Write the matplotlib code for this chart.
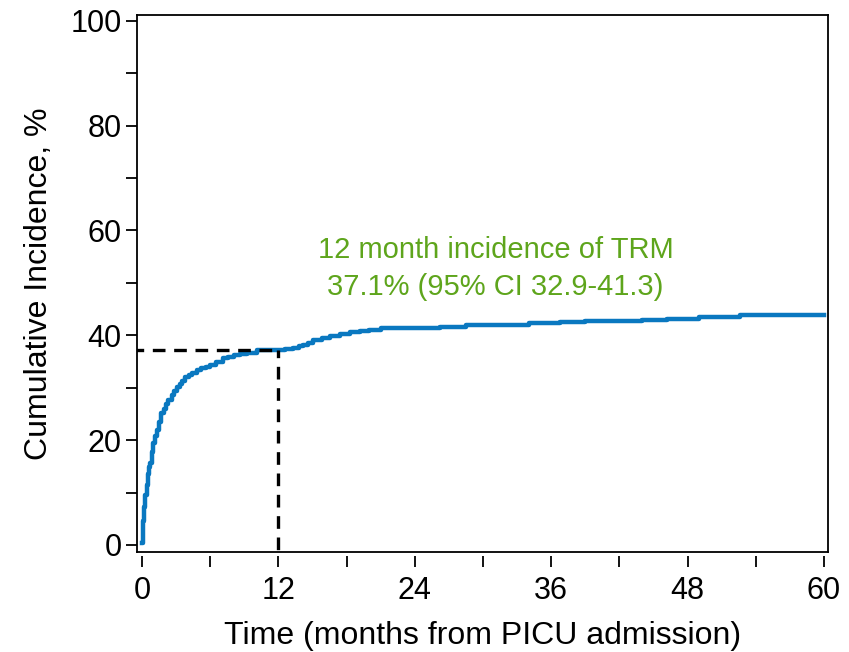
import numpy as np
import matplotlib
matplotlib.use('Agg')
import matplotlib.pyplot as plt
from matplotlib.ticker import MultipleLocator

# cumulative incidence of TRM (months, %)
times = [0, 0.05, 0.1, 0.15, 0.2, 0.3, 0.4, 0.5, 0.6, 0.7, 0.85, 1.0, 1.15, 1.3,
         1.5, 1.7, 1.9, 2.1, 2.3, 2.6, 2.8, 3.05, 3.3, 3.5, 3.8, 4.1, 4.4, 4.8,
         5.2, 5.6, 6.0, 6.5, 7.15, 7.6, 8.1, 8.6, 9.2, 10.1, 11.0, 11.85, 12.6,
         13.3, 13.8, 14.2, 14.6, 15.0, 15.8, 16.5, 17.4, 18.3, 19.2, 20.0, 21.0,
         24.0, 26.2, 28.5, 31.5, 34.0, 36.8, 39.0, 41.4, 44.0, 46.2, 49.0, 52.6, 60.0]
cum_inc = [0.3, 2.5, 4.5, 6.0, 7.3, 9.5, 11.5, 13.5, 14.8, 15.6, 17.8, 19.5, 20.8,
           22.0, 23.5, 25.2, 26.0, 26.8, 27.7, 28.6, 29.3, 30.2, 30.7, 31.2, 32.0,
           32.4, 32.8, 33.4, 33.7, 34.0, 34.4, 34.9, 35.6, 35.9, 36.2, 36.4, 36.7,
           37.1, 37.1, 37.2, 37.3, 37.6, 37.9, 38.2, 38.6, 39.1, 39.4, 39.8, 40.2,
           40.7, 40.8, 41.0, 41.3, 41.4, 41.6, 41.9, 42.0, 42.3, 42.6, 42.7, 42.8,
           43.0, 43.1, 43.4, 43.9, 43.9]

landmark_t = 12
landmark_ci = 37.1
annot = "12 month incidence of TRM\n37.1% (95% CI 32.9-41.3)"

green = '#5ea51c'
blue = '#0a78c0'

plt.rcParams['font.family'] = ['Liberation Sans', 'DejaVu Sans']

fig = plt.figure(figsize=(8.49, 6.52), dpi=100)
ax = fig.add_axes([0.1614, 0.1534, 0.8139, 0.8236])

ax.step(times, cum_inc, where='post', color=blue, lw=3.2)

# dashed guide lines at 12 months
ax.plot([-1, landmark_t], [landmark_ci, landmark_ci], color='black', lw=2.4,
        ls=(0, (3.8, 2.6)))
ax.plot([landmark_t, landmark_t], [-5, landmark_ci], color='black', lw=2.4,
        ls=(0, (3.8, 2.6)))

ax.text(31.1, 52.7, annot, color=green, fontsize=21, ha='center', va='center',
        linespacing=1.4)

ax.set_xlim(-0.44, 60.35)
ax.set_ylim(-1.34, 101.1)

ax.xaxis.set_major_locator(MultipleLocator(12))
ax.xaxis.set_minor_locator(MultipleLocator(6))
ax.yaxis.set_major_locator(MultipleLocator(20))
ax.yaxis.set_minor_locator(MultipleLocator(10))
ax.tick_params(axis='both', which='both', direction='out', length=8, width=1.3,
               labelsize=22, color='black')
ax.tick_params(axis='x', which='major', pad=6)
ax.tick_params(axis='y', which='major', pad=3)

# x axis sits just below the plot box, like the original
ax.spines['bottom'].set_position(('outward', 3))
ax.spines['bottom'].set_color('none')
ax.plot([0, 1], [0, 0], transform=ax.transAxes, color='black', lw=1.3, clip_on=False)
for s in ['left', 'top', 'right']:
    ax.spines[s].set_linewidth(1.3)

ax.set_xlabel('Time (months from PICU admission)', fontsize=23, labelpad=11)
ax.set_ylabel('Cumulative Incidence, %', fontsize=23, labelpad=12)

fig.savefig('out.png', dpi=100)
